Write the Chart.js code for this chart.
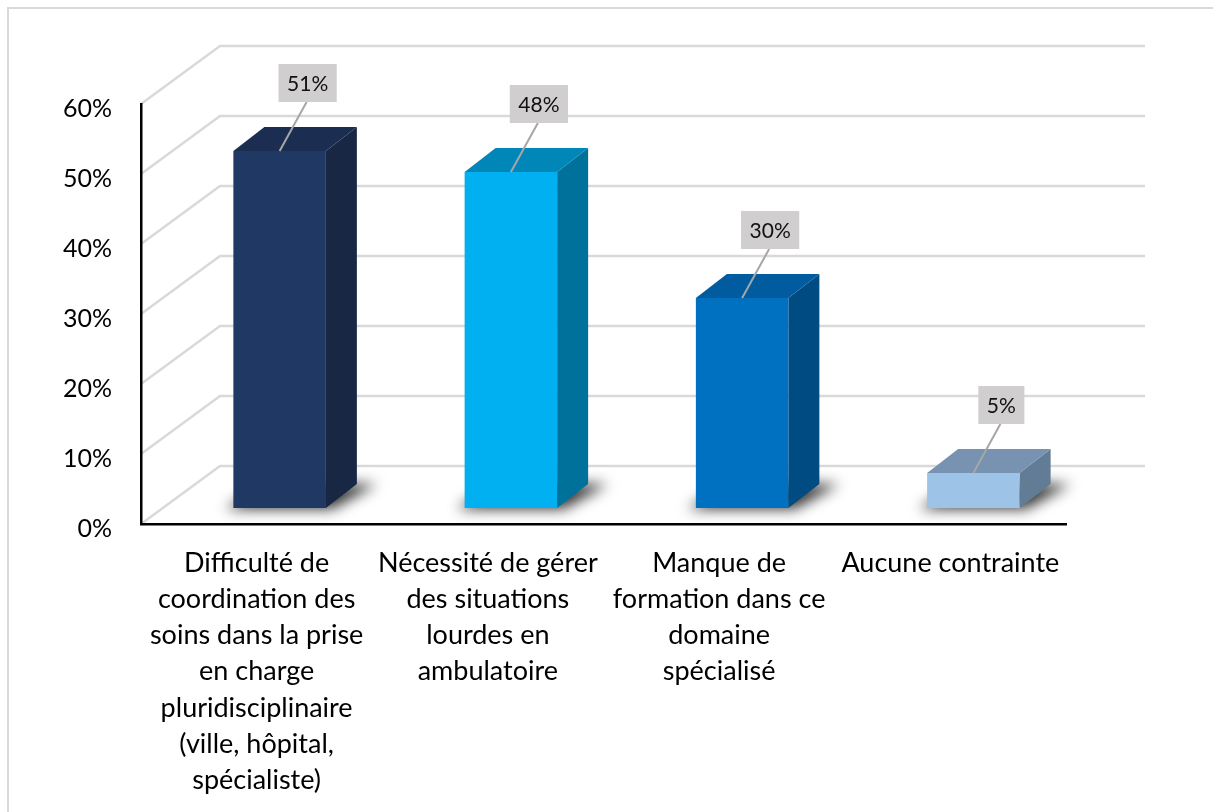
<!DOCTYPE html>
<html>
<head>
<meta charset="utf-8">
<script src="https://cdn.jsdelivr.net/npm/chart.js@4"></script>
<style>
  html, body { margin: 0; padding: 0; background: #fff; }
  #wrap { width: 1213px; height: 812px; }
</style>
</head>
<body>
<div id="wrap"><canvas id="chart1" width="1213" height="812"></canvas></div>
<script>
// categories, values and axis ticks
let categories = [
    ['Difficulté de', 'coordination des', 'soins dans la prise', 'en charge', 'pluridisciplinaire', '(ville, hôpital,', 'spécialiste)'],
    ['Nécessité de gérer', 'des situations', 'lourdes en', 'ambulatoire'],
    ['Manque de', 'formation dans ce', 'domaine', 'spécialisé'],
    ['Aucune contrainte']
];
let values = [0.51, 0.48, 0.30, 0.05];
let yTicks = [0, 0.1, 0.2, 0.3, 0.4, 0.5, 0.6];

// face colours for each bar
let frontColors = ['#203864', '#00B0F0', '#0070C0', '#9DC3E6'];
let topColors = ['#1B2E52', '#0087B8', '#005C9F', '#7793B1'];
let sideColors = ['#172744', '#00719A', '#004B82', '#637C96'];

let font = 'Lato';
let wallDepth = { x: 79, y: -58 };   // floor/back wall offset
let barShift = { x: 23, y: -16 };    // front face of the bars sits inside the box
let barDepth = { x: 31, y: -24 };

let pct = v => Math.round(v * 100) + '%';

let boxPlugin = {
    id: 'box3d',
    beforeDraw(chart) {
        let ctx = chart.ctx;
        let area = chart.chartArea;
        let ys = chart.scales.y;
        ctx.save();
        // outer frame
        ctx.strokeStyle = '#D9D9D9';
        ctx.lineWidth = 2;
        ctx.strokeRect(8, 8, 1260, 900);
        // side wall diagonals and back wall lines
        ctx.strokeStyle = '#D9D9D9';
        ctx.lineWidth = 2.5;
        yTicks.forEach(v => {
            let yf = ys.getPixelForValue(v);
            ctx.beginPath();
            ctx.moveTo(area.left, yf);
            ctx.lineTo(area.left + wallDepth.x, yf + wallDepth.y);
            ctx.lineTo(area.right + wallDepth.x, yf + wallDepth.y);
            ctx.stroke();
        });
        ctx.restore();
    },
    afterDatasetsDraw(chart) {
        let ctx = chart.ctx;
        let bars = chart.getDatasetMeta(0).data;
        ctx.save();
        // soft shadows on the floor first
        bars.forEach(bar => {
            let p = bar.getProps(['x', 'y', 'base', 'width'], true);
            let L = p.x - p.width / 2 + barShift.x;
            let R = p.x + p.width / 2 + barShift.x;
            let B = p.base + barShift.y;
            ctx.save();
            ctx.filter = 'blur(7px)';
            ctx.fillStyle = 'rgba(0,0,0,0.8)';
            ctx.beginPath();
            ctx.moveTo(L - 8, B + 1);
            ctx.lineTo(R + 6, B + 1);
            ctx.lineTo(R + barDepth.x + 20, B + barDepth.y);
            ctx.lineTo(L + barDepth.x, B + barDepth.y);
            ctx.closePath();
            ctx.fill();
            ctx.restore();
        });
        bars.forEach((bar, i) => {
            let p = bar.getProps(['x', 'y', 'base', 'width'], true);
            let L = p.x - p.width / 2 + barShift.x;
            let R = p.x + p.width / 2 + barShift.x;
            let T = p.y + barShift.y;
            let B = p.base + barShift.y;
            let dx = barDepth.x, dy = barDepth.y;
            // side
            ctx.fillStyle = sideColors[i];
            ctx.beginPath();
            ctx.moveTo(R, T);
            ctx.lineTo(R + dx, T + dy);
            ctx.lineTo(R + dx, B + dy);
            ctx.lineTo(R, B);
            ctx.closePath();
            ctx.fill();
            // top
            ctx.fillStyle = topColors[i];
            ctx.beginPath();
            ctx.moveTo(L, T);
            ctx.lineTo(L + dx, T + dy);
            ctx.lineTo(R + dx, T + dy);
            ctx.lineTo(R, T);
            ctx.closePath();
            ctx.fill();
            // front
            ctx.fillStyle = frontColors[i];
            ctx.fillRect(L, T, R - L, B - T);
        });
        // value callouts
        ctx.font = '21px ' + font;
        ctx.textAlign = 'center';
        ctx.textBaseline = 'middle';
        bars.forEach((bar, i) => {
            let p = bar.getProps(['x', 'y', 'base', 'width'], true);
            let cx = p.x + barShift.x;
            let T = p.y + barShift.y;
            let text = pct(values[i]);
            let w = ctx.measureText(text).width + 17;
            let h = 38;
            let bx = cx + 28;
            let bb = T - 49;
            ctx.strokeStyle = '#A6A6A6';
            ctx.lineWidth = 2;
            ctx.beginPath();
            ctx.moveTo(bx - 1, bb);
            ctx.lineTo(cx, T);
            ctx.stroke();
            ctx.fillStyle = '#D0CECE';
            ctx.fillRect(bx - w / 2, bb - h, w, h);
            ctx.fillStyle = '#111';
            ctx.fillText(text, bx, bb - h / 2 + 1);
        });
        ctx.restore();
    }
};

let ctx1 = document.getElementById('chart1').getContext('2d');
let chart = new Chart(ctx1, {
    type: 'bar',
    data: {
        labels: categories,
        datasets: [{
            data: values,
            backgroundColor: 'rgba(0,0,0,0)',
            borderWidth: 0,
            categoryPercentage: 1,
            barPercentage: 0.4
        }]
    },
    options: {
        responsive: false,
        animation: false,
        events: [],
        layout: { padding: { left: 0, top: 104, right: 147, bottom: 0 } },
        plugins: { legend: { display: false }, tooltip: { enabled: false } },
        scales: {
            x: {
                grid: { display: false, drawTicks: false },
                border: { display: true, color: '#000', width: 2.5 },
                ticks: {
                    color: '#000',
                    font: { family: font, size: 27, lineHeight: 1.34 },
                    padding: 21,
                    maxRotation: 0,
                    autoSkip: false
                },
                afterFit(scale) { scale.height = 288; }
            },
            y: {
                min: 0,
                max: 0.6,
                grid: { display: false, drawTicks: false },
                border: { display: true, color: '#000', width: 2.5 },
                ticks: {
                    stepSize: 0.1,
                    color: '#000',
                    font: { family: font, size: 25 },
                    padding: 29,
                    labelOffset: 5,
                    callback: v => pct(v)
                },
                afterFit(scale) { scale.width = 141; }
            }
        }
    },
    plugins: [boxPlugin]
});
</script>
</body>
</html>
